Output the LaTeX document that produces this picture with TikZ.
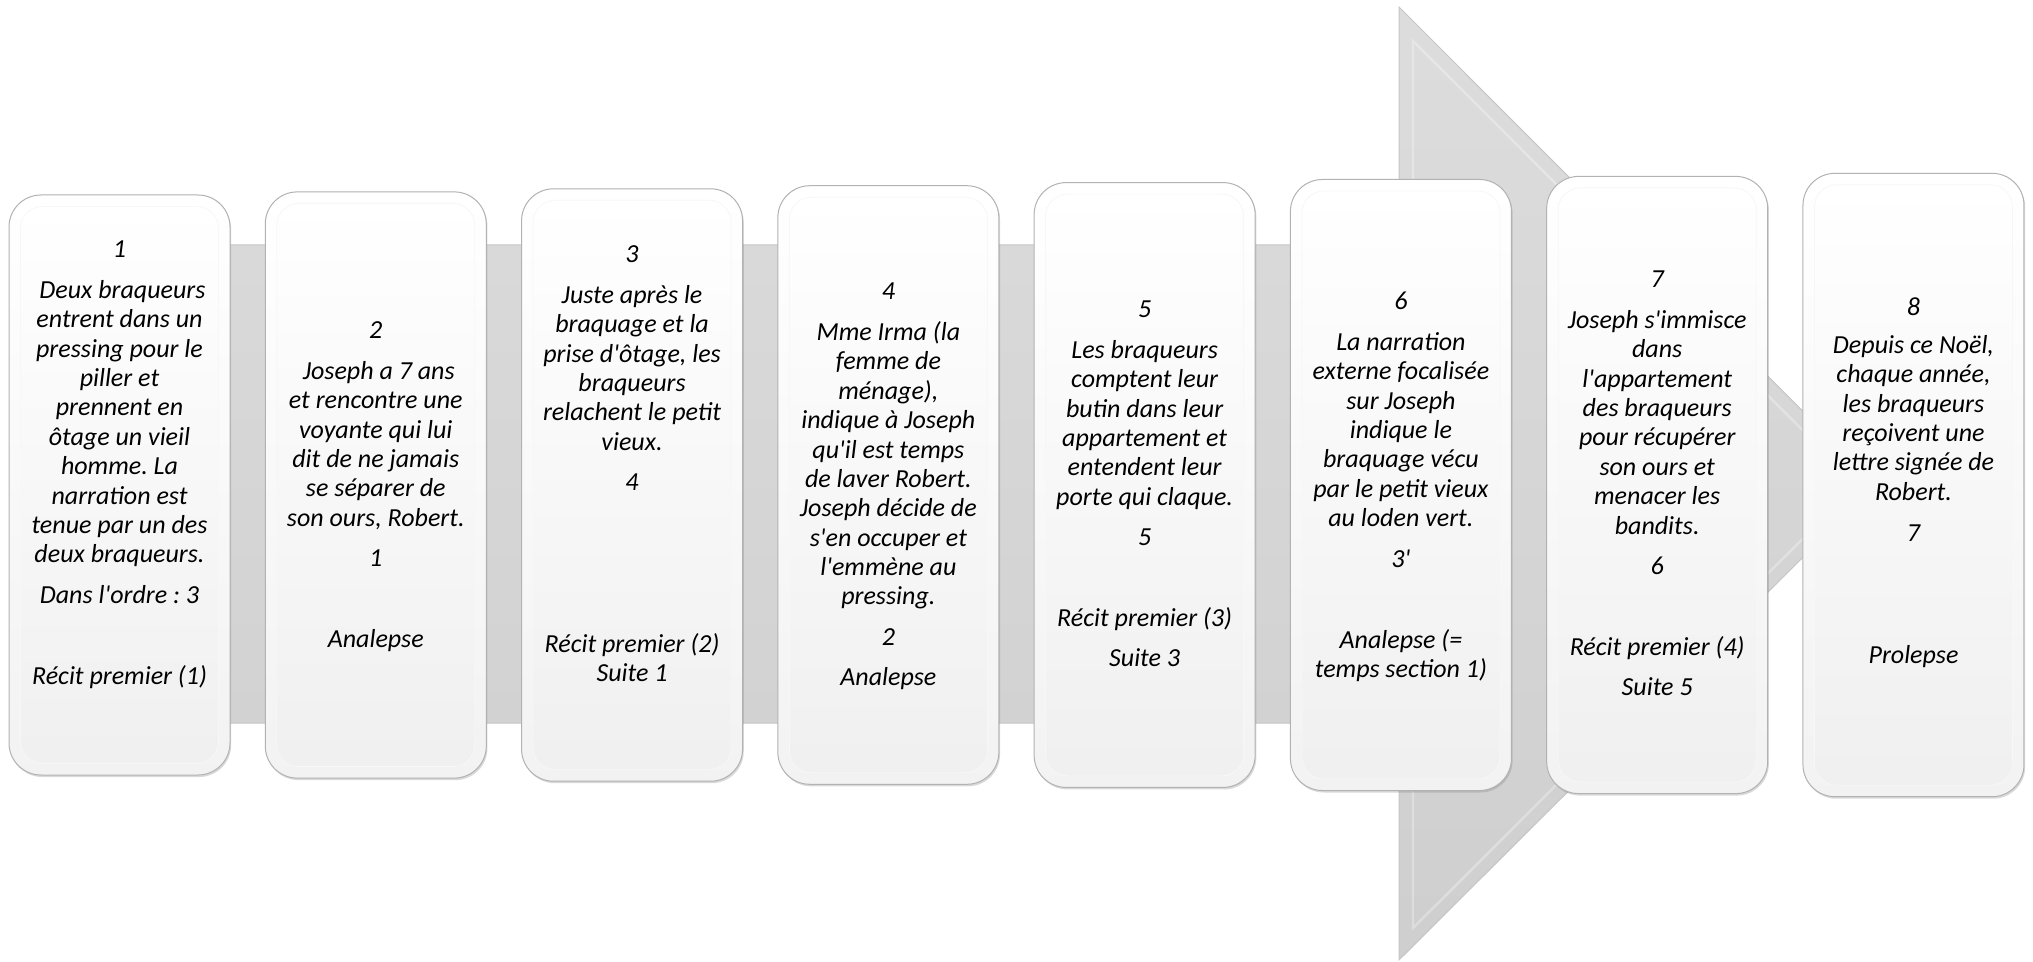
\documentclass[tikz,border=0pt]{standalone}
\usepackage{fontspec}
\setmainfont{Carlito}[Ligatures=TeXOff]
\usetikzlibrary{calc}
\usetikzlibrary{shadows}

\newcommand{\pg}{5.5pt}
\newcommand{\pe}{25.7pt}
\newcommand{\cardtext}[1]{\parbox[t]{108pt}{\centering #1}}
\frenchspacing

\begin{document}
\begin{tikzpicture} [x=0.5pt, y=-0.5pt,
    card/.style = {draw=gray!60, line width=0.5pt, rounded corners=16pt, top color=white, bottom color=gray!10,
        minimum width=110.5pt, inner sep=0pt, drop shadow={opacity=0.3, shadow xshift=0.6pt, shadow yshift=-1pt}},
    face/.style = {draw=gray!6, line width=0.4pt, rounded corners=11pt, top color=white, bottom color=gray!12},
    txt/.style = {anchor=base, inner sep=0pt, font=\fontsize{13pt}{14.7pt}\selectfont\itshape}]
    \useasboundingbox (0,0) rectangle (2033,962);
    % big arrow behind the cards
    \shade[top color=gray!27, bottom color=gray!38, draw=gray!45, line width=0.5pt]
        (20,245) -- (1399,245) -- (1399,7) -- (1876,484.5) -- (1399,960) -- (1399,723) -- (20,723) -- cycle;
    \draw[white, opacity=0.3, line width=1.2pt] (1413,259) -- (1413,41) -- (1857,484.5) -- (1413,928) -- (1413,709);
    % cards
    \foreach \i in {1,...,8} {
        \pgfmathsetmacro\cx{119.5+256.28*(\i-1)}
        \pgfmathsetmacro\cardh{290+3.1*(\i-1)}
        \node[card, minimum height=\cardh pt] (b\i) at (\cx,485) {};
        \path[face] ($(b\i.north west)+(12,12)$) rectangle ($(b\i.south east)+(-12,-12)$);
    }
    % texts
    \node[txt] (t1) at (b1.center |- 0,258) {\cardtext{1\\[\pg] ~Deux braqueurs\\ entrent dans un\\ pressing pour le\\ piller et\\ prennent en\\ ôtage un vieil\\ homme. La\\ narration est\\ tenue par un des\\ deux braqueurs.\\[\pg] Dans l'ordre : 3\\[\pe] Récit premier (1)}};
    \node[txt] (t2) at (b2.center |- 0,339) {\cardtext{2\\[\pg] ~Joseph a 7 ans\\ et rencontre une\\ voyante qui lui\\ dit de ne jamais\\ se séparer de\\ son ours, Robert.\\[\pg] 1\\[\pe] Analepse}};
    \node[txt] (t3) at (b3.center |- 0,263) {\cardtext{3\\[\pg] Juste après le\\ braquage et la\\ prise d'ôtage, les\\ braqueurs\\ relachent le petit\\ vieux.\\[\pg] 4\\[66pt] Récit premier (2)\\ Suite 1}};
    \node[txt] (t4) at (b4.center |- 0,300) {\cardtext{4\\[\pg] Mme Irma (la\\ femme de\\ ménage),\\ indique à Joseph\\ qu'il est temps\\ de laver Robert.\\ Joseph décide de\\ s'en occuper et\\ l'emmène au\\ pressing.\\[\pg] 2\\[\pg] Analepse}};
    \node[txt] (t5) at (b5.center |- 0,318) {\cardtext{5\\[\pg] Les braqueurs\\ comptent leur\\ butin dans leur\\ appartement et\\ entendent leur\\ porte qui claque.\\[\pg] 5\\[\pe] Récit premier (3)\\[\pg] Suite 3}};
    \node[txt] (t6) at (b6.center |- 0,310) {\cardtext{6\\[\pg] La narration\\ externe focalisée\\ sur Joseph\\ indique le\\ braquage vécu\\ par le petit vieux\\ au loden vert.\\[\pg] 3'\\[\pe] Analepse (=\\ temps section 1)}};
    \node[txt] (t7) at (b7.center |- 0,288) {\cardtext{7\\[\pg] Joseph s'immisce\\ dans\\ l'appartement\\ des braqueurs\\ pour récupérer\\ son ours et\\ menacer les\\ bandits.\\[\pg] 6\\[\pe] Récit premier (4)\\[\pg] Suite 5}};
    \node[txt] (t8) at (b8.center |- 0,316) {\cardtext{8\\[4pt] Depuis ce Noël,\\ chaque année,\\ les braqueurs\\ reçoivent une\\ lettre signée de\\ Robert.\\[6pt] 7\\[46pt] Prolepse}};
\end{tikzpicture}
\end{document}
